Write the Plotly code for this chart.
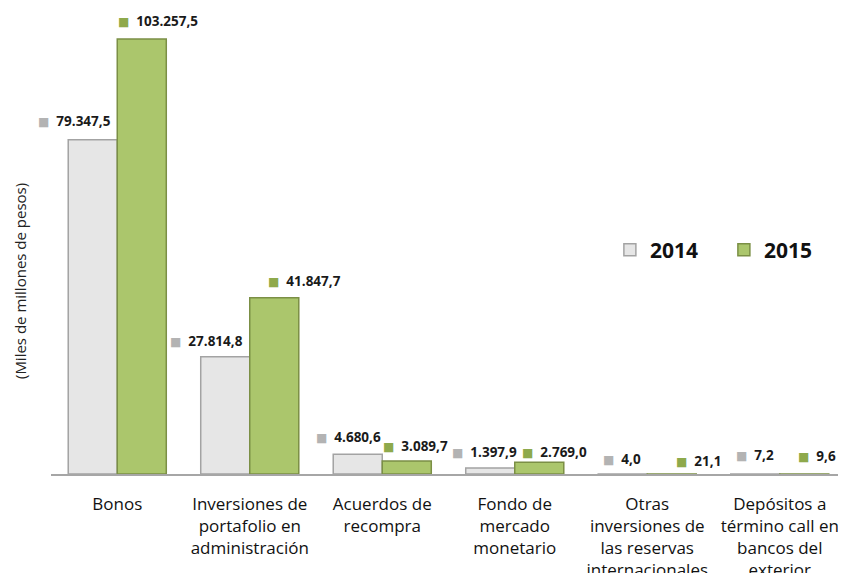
import plotly.graph_objects as go

categories = [
    "Bonos",
    "Inversiones de<br>portafolio en<br>administración",
    "Acuerdos de<br>recompra",
    "Fondo de<br>mercado<br>monetario",
    "Otras<br>inversiones de<br>las reservas<br>internacionales",
    "Depósitos a<br>término call en<br>bancos del<br>exterior",
]
values_2014 = [79347.5, 27814.8, 4680.6, 1397.9, 4.0, 7.2]
values_2015 = [103257.5, 41847.7, 3089.7, 2769.0, 21.1, 9.6]
series_names = ["2014", "2015"]

# label placement offsets (pixels) relative to each category centre / bar top
dx_2014 = [-43, -43, -34, -30, -25, -25]
dy_2014 = [19, 16, 17, 16, 15, 19]
dx_2015 = [41, 55, 33, 40, 51, 37]
dy_2015 = [18, 17, 15, 10, 13, 18]

FONT = "Open Sans, Noto Sans, sans-serif"
C14 = "#e6e6e6"
C14_LINE = "#a3a3a3"
C15 = "#abc66c"
C15_LINE = "#7b8f45"


def fmt(v):
    s = f"{v:,.1f}"
    return s.replace(",", "X").replace(".", ",").replace("X", ".")


x_idx = list(range(len(categories)))

fig = go.Figure()
fig.add_trace(go.Bar(
    x=x_idx, y=values_2014, name=series_names[0],
    marker=dict(color=C14, line=dict(color=C14_LINE, width=1.5)),
))
fig.add_trace(go.Bar(
    x=x_idx, y=values_2015, name=series_names[1],
    marker=dict(color=C15, line=dict(color=C15_LINE, width=1.5)),
))

SQ = '<span style="color:{c};font-family:DejaVu Sans;font-size:12px">■</span>  '
annotations = []
for i in x_idx:
    annotations.append(dict(
        x=i, y=values_2014[i], xref="x", yref="y",
        text=SQ.format(c="#b3b3b3") + f'<b>{fmt(values_2014[i])}</b>',
        showarrow=False, xshift=dx_2014[i], yshift=dy_2014[i],
        font=dict(family=FONT, size=13.5, color="#1a1a1a"),
    ))
    annotations.append(dict(
        x=i, y=values_2015[i], xref="x", yref="y",
        text=SQ.format(c="#8ea94c") + f'<b>{fmt(values_2015[i])}</b>',
        showarrow=False, xshift=dx_2015[i], yshift=dy_2015[i],
        font=dict(family=FONT, size=13.5, color="#1a1a1a"),
    ))

annotations.append(dict(
    x=-0.039, y=0.425, xref="paper", yref="paper",
    xanchor="center", yanchor="middle",
    text="(Miles de millones de pesos)", textangle=-90,
    showarrow=False, font=dict(family=FONT, size=15, color="#222"),
))

fig.update_layout(
    width=838, height=565,
    margin=dict(l=43, r=0, t=12, b=99, autoexpand=False),
    paper_bgcolor="white", plot_bgcolor="white",
    barmode="group", bargap=0.26, bargroupgap=0.0,
    showlegend=True,
    legend=dict(
        orientation="h", x=0.703, y=0.493, xanchor="left", yanchor="middle",
        font=dict(family=FONT, size=21, color="#111", weight="bold"),
        bgcolor="rgba(0,0,0,0)", entrywidth=69, entrywidthmode="pixels",
        itemwidth=30,
    ),
    annotations=annotations,
    xaxis=dict(
        tickmode="array", tickvals=x_idx, ticktext=categories,
        range=[-0.5, len(categories) - 0.5],
        showline=True, linecolor="#a6a6a6", linewidth=1.5,
        ticks="", showgrid=False, zeroline=False,
        tickfont=dict(family=FONT, size=17, color="#111"),
        ticklabelstandoff=14,
        automargin=False,
    ),
    yaxis=dict(
        range=[0, 107770], showticklabels=False, showgrid=False,
        zeroline=False, showline=False, ticks="",
    ),
)

fig.write_html("out.html")
